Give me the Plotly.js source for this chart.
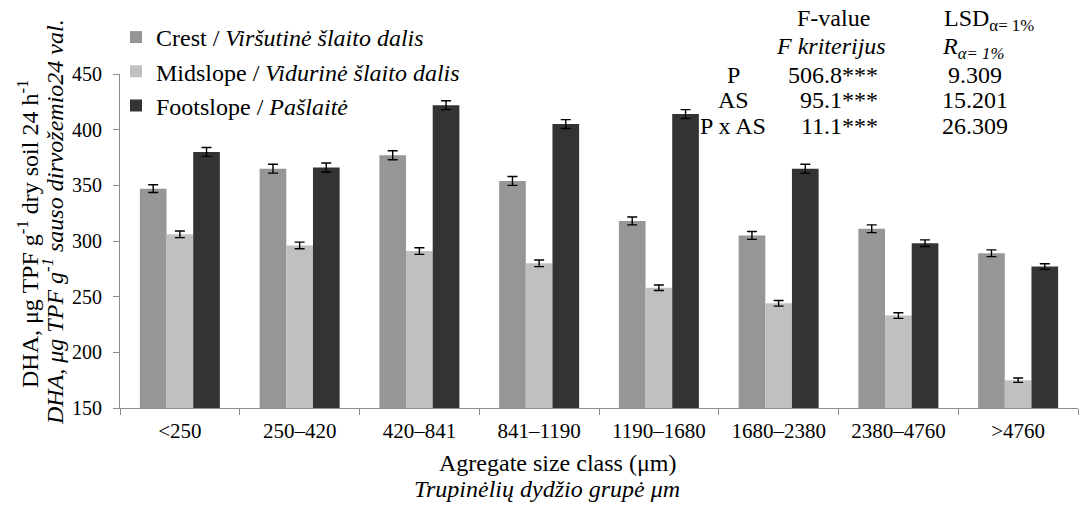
<!DOCTYPE html>
<html><head><meta charset="utf-8">
<script src="https://cdn.plot.ly/plotly-3.0.1.min.js"></script>
<style>html,body{margin:0;padding:0;background:#fff}#chart{width:1079px;height:506px}</style>
</head><body><div id="chart"></div>
<script>
// ---- data ----
const categories = ['<250','250–420','420–841','841–1190','1190–1680','1680–2380','2380–4760','>4760'];
const tickLabels = ['&lt;250','250–420','420–841','841–1190','1190–1680','1680–2380','2380–4760','&gt;4760'];
const crest = [347,365,377,354,318,305,311,289];
const midslope = [306,296,291,280,258,244,233,175];
const footslope = [380,366,422,405,414,365,298,277];
const crestErr = [3.5,4,4,4,3.5,3.5,3.5,3];
const midslopeErr = [3,3,3,3,2.5,2.5,2.5,2];
const footslopeErr = [4,4,4,4,4,4,3,2.5];
const seriesNames = ['Crest / <i>Viršutinė šlaito dalis</i>','Midslope / <i>Vidurinė šlaito dalis</i>','Footslope / <i>Pašlaitė</i>'];
const statRows = ['P','AS','P x AS'];
const fValues = ['506.8***','95.1***','11.1***'];
const lsdValues = ['9.309','15.201','26.309'];

// ---- layout helpers ----
const L = 120, R = 1, T = 74, B = 98, W = 1079, H = 506;
const pw = W - L - R, ph = H - T - B;
const px = x => (x - L) / pw;
const py = y => (H - B - y) / ph;
const FONT = 'Liberation Serif';
const colors = ['#969696','#c0c0c0','#333333'];

function barTrace(vals, errs, name, color){
  return {type:'bar', x:categories, y:vals, name:name,
    marker:{color:color, line:{width:0}},
    error_y:{type:'data', array:errs, visible:true, color:'#000', thickness:1.4, width:5}};
}
const data = [
  barTrace(crest, crestErr, seriesNames[0], colors[0]),
  barTrace(midslope, midslopeErr, seriesNames[1], colors[1]),
  barTrace(footslope, footslopeErr, seriesNames[2], colors[2])
];

const ann = [];
const txt = (text, x, y, xanchor, size) => ann.push({text:text, x:px(x), y:py(y), xref:'paper', yref:'paper',
  xanchor:xanchor||'center', yanchor:'middle', showarrow:false, font:{family:FONT, size:size||24, color:'#000'}});
txt('F-value', 833, 18);
txt('LSD<sub>α= 1%</sub>', 942, 20, 'left');
txt('<i>F kriterijus</i>', 831, 46);
txt('<i>R<sub>α= 1%</sub></i>', 940, 48, 'left');
const rowY = [75, 100, 126];
statRows.forEach((r,i)=>{
  txt(r, 733, rowY[i]);
  txt(fValues[i], 880, rowY[i], 'right');
  txt(lsdValues[i], 975, rowY[i]);
});
// axis titles
txt('Agregate size class (μm)', 557, 463);
txt('<i>Trupinėlių dydžio grupė μm</i>', 547, 489);
ann.push({text:'DHA, μg TPF g<sup>-1</sup> dry soil 24 h<sup>-1</sup>', x:px(28), y:py(234), xref:'paper', yref:'paper',
  xanchor:'center', yanchor:'middle', textangle:-90, showarrow:false, font:{family:FONT, size:24, color:'#000'}});
ann.push({text:'<i>DHA, μg TPF g<sup>-1</sup> sauso dirvožemio24 val.</i>', x:px(53), y:py(222), xref:'paper', yref:'paper',
  xanchor:'center', yanchor:'middle', textangle:-90, showarrow:false, font:{family:FONT, size:24, color:'#000'}});

const layout = {
  width:W, height:H, margin:{l:L, r:R, t:T, b:B, pad:0},
  paper_bgcolor:'#fff', plot_bgcolor:'#fff',
  font:{family:FONT, color:'#000'},
  barmode:'group', bargap:0.332, bargroupgap:0,
  showlegend:true,
  legend:{x:px(116), y:py(15), xanchor:'left', yanchor:'top', bgcolor:'rgba(0,0,0,0)',
    font:{family:FONT, size:24, color:'#000'}, itemwidth:30, tracegroupgap:0},
  xaxis:{type:'category', categoryorder:'array', categoryarray:categories,
    tickmode:'array', tickvals:categories, ticktext:tickLabels,
    showline:true, linecolor:'#8c8c8c', linewidth:1, ticks:'outside', tickson:'boundaries',
    ticklen:6, tickcolor:'#8c8c8c', showgrid:false, zeroline:false, ticklabelstandoff:4,
    tickfont:{family:FONT, size:21, color:'#000'}, range:[-0.5,7.5]},
  yaxis:{range:[150,450], tickvals:[150,200,250,300,350,400,450],
    showline:true, linecolor:'#8c8c8c', linewidth:1, ticks:'outside', ticklen:6, tickcolor:'#8c8c8c',
    showgrid:false, zeroline:false, ticklabelstandoff:7, tickfont:{family:FONT, size:20, color:'#000'}},
  annotations:ann
};
Plotly.newPlot('chart', data, layout, {displayModeBar:false, staticPlot:true});
</script></body></html>
